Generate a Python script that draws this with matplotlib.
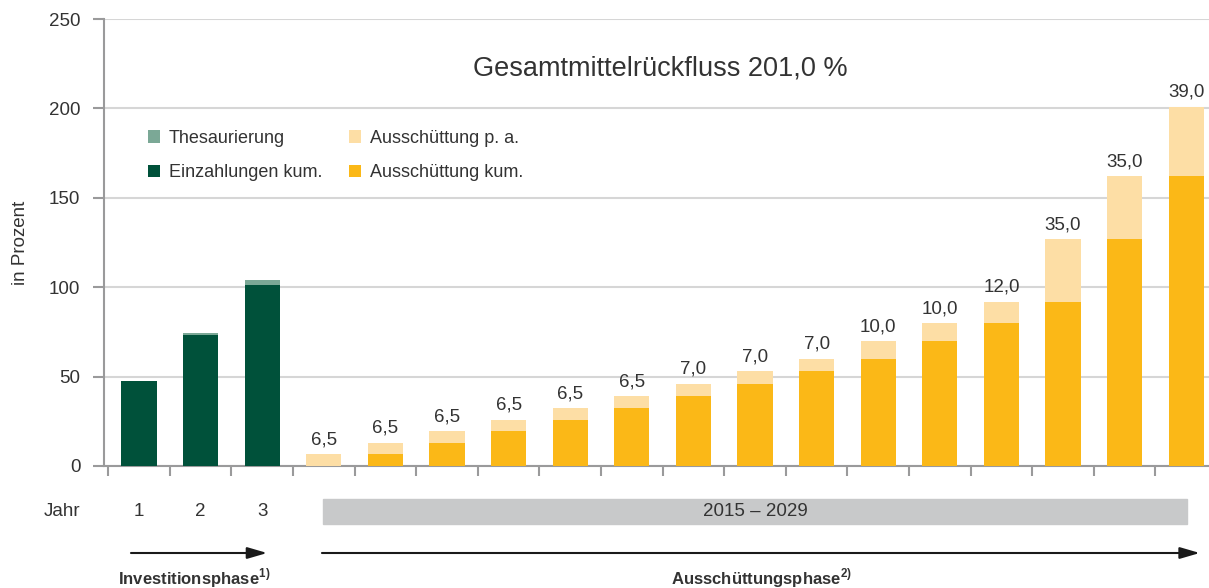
import matplotlib.pyplot as plt
import matplotlib.transforms as mtransforms
from matplotlib.patches import Rectangle
import numpy as np

plt.rcParams['font.family'] = ['Liberation Sans', 'DejaVu Sans']

## DATA ##
einzahlungen = [47.5, 73.5, 101.0]
thesaurierung = [0.0, 1.0, 3.0]
jahre = ['1', '2', '3']
aus_kum = [0, 6.5, 13.0, 19.5, 26.0, 32.5, 39.0, 46.0, 53.0, 60.0, 70.0, 80.0, 92.0, 127.0, 162.0]
aus_pa = [6.5, 6.5, 6.5, 6.5, 6.5, 6.5, 7.0, 7.0, 7.0, 10.0, 10.0, 12.0, 35.0, 35.0, 39.0]
pa_labels = ['6,5', '6,5', '6,5', '6,5', '6,5', '6,5', '7,0', '7,0', '7,0',
             '10,0', '10,0', '12,0', '35,0', '35,0', '39,0']
titel = 'Gesamtmittelrückfluss 201,0 %'
zeitraum = '2015 – 2029'

## COLORS ##
c_dark = '#00513A'
c_thes = '#7BA896'
c_pa = '#FDDEA5'
c_kum = '#FBB817'
c_text = '#333333'
c_grid = '#d6d6d6'
c_spine = '#9a9a9b'
fs = 13.5

fig = plt.figure(figsize=(12.09, 5.88), dpi=100)
ax = fig.add_axes([104 / 1209, 1 - 466 / 588, 1 - 104 / 1209, 447 / 588])

w = 0.57
x1 = np.arange(len(einzahlungen))
x2 = np.arange(len(aus_kum)) + len(einzahlungen)

b_thes = ax.bar(x1, thesaurierung, w, bottom=einzahlungen, color=c_thes, zorder=3)
b_ein = ax.bar(x1, einzahlungen, w, color=c_dark, zorder=3)
b_kum = ax.bar(x2, aus_kum, w, color=c_kum, zorder=3)
b_pa = ax.bar(x2, aus_pa, w, bottom=aus_kum, color=c_pa, zorder=3)

for xi, k, p, lab in zip(x2, aus_kum, aus_pa, pa_labels):
    ax.text(xi, k + p + 5.5, lab, ha='center', va='baseline', fontsize=fs, color=c_text)

ax.set_ylim(0, 250)
ax.set_xlim(-0.568, 17.37)
ax.set_yticks([0, 50, 100, 150, 200, 250])
ax.yaxis.grid(True, color=c_grid, linewidth=1.5, zorder=0)
ax.set_axisbelow(True)
ax.set_xticks(np.arange(-0.5, 17.5, 1.0))
ax.set_xticklabels([])
ax.tick_params(axis='x', direction='out', length=7.5, width=1.5, color=c_spine)
ax.tick_params(axis='y', direction='out', length=8, width=1.5, color=c_spine,
               labelsize=fs, labelcolor=c_text, pad=9)
for s in ['top', 'right']:
    ax.spines[s].set_visible(False)
for s in ['left', 'bottom']:
    ax.spines[s].set_color(c_spine)
    ax.spines[s].set_linewidth(1.5)
ax.set_ylabel('in Prozent', fontsize=fs, color=c_text)
ax.yaxis.set_label_coords(-75 / 1105, 0.5)

ax.text(0.503, 0.89, titel, transform=ax.transAxes, ha='center', va='center',
        fontsize=19.5, color=c_text)

leg = ax.legend([b_thes, b_ein, b_pa, b_kum],
                ['Thesaurierung', 'Einzahlungen kum.', 'Ausschüttung p. a.', 'Ausschüttung kum.'],
                ncol=2, frameon=False, loc='upper left', bbox_to_anchor=(0.0398, 0.752),
                borderpad=0, borderaxespad=0,
                fontsize=13, handlelength=0.67, handleheight=0.67, handletextpad=0.5,
                columnspacing=1.45, labelspacing=0.95, labelcolor=c_text)

## BOTTOM AREA ##
tr = mtransforms.blended_transform_factory(ax.transData, fig.transFigure)
y_jahr = 1 - 511 / 588
fig.text(62 / 1209, y_jahr, 'Jahr', ha='center', va='center', fontsize=fs, color=c_text)
for xi, j in zip(x1, jahre):
    ax.text(xi, y_jahr, j, transform=tr, ha='center', va='center', fontsize=fs,
            color=c_text, clip_on=False)

grey = Rectangle((2.99, 1 - 524 / 588), 17.01 - 2.99, 25 / 588, transform=tr,
                 color='#C8C9CA', clip_on=False, zorder=1)
ax.add_patch(grey)
ax.text(10.0, 1 - 512 / 588, zeitraum, transform=tr, ha='center', va='center',
        fontsize=fs, color=c_text, clip_on=False)

y_arr = 1 - 553 / 588
for xa, xb in [(-0.13, 2.08), (2.97, 17.22)]:
    ax.annotate('', xy=(xb, y_arr), xytext=(xa, y_arr), xycoords=tr, textcoords=tr,
                arrowprops=dict(arrowstyle='-|>,head_length=1.2,head_width=0.35',
                                color='#1a1a1a', lw=1.5, shrinkA=0, shrinkB=0),
                annotation_clip=False)

y_lab = 1 - 578 / 588
ax.text(0.9, y_lab, r'Investitionsphase$^{\mathregular{1)}}$', transform=tr, ha='center',
        va='center', fontsize=12, fontweight='bold', color=c_text, clip_on=False)
ax.text(10.1, y_lab, r'Ausschüttungsphase$^{\mathregular{2)}}$', transform=tr, ha='center',
        va='center', fontsize=12, fontweight='bold', color=c_text, clip_on=False)

fig.savefig('out.png', dpi=100)
